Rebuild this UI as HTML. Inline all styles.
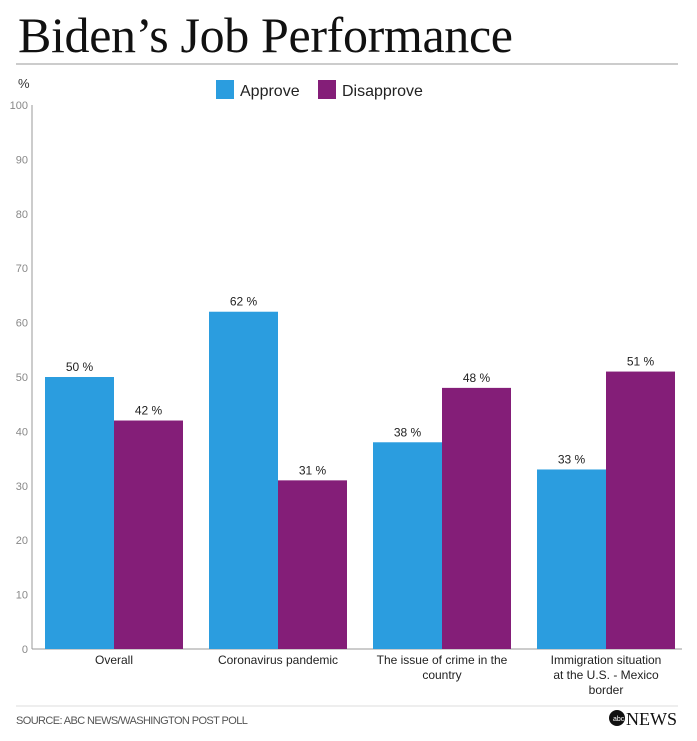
<!DOCTYPE html>
<html><head><meta charset="utf-8"><style>
body{margin:0;background:#fff;width:697px;height:736px;overflow:hidden;font-family:"Liberation Sans",sans-serif}
</style></head><body>
<svg width="697" height="736">
<text x="18" y="52" font-family="Liberation Serif" font-size="50" fill="#111" textLength="495">Biden’s Job Performance</text>
<line x1="16" y1="64" x2="678" y2="64" stroke="#999" stroke-width="1"/>
<text x="18" y="88" font-size="13" fill="#333">%</text>
<rect x="216" y="80" width="18" height="19" fill="#2b9ddf"/>
<text x="240" y="96" font-size="16" fill="#222">Approve</text>
<rect x="318" y="80" width="18" height="19" fill="#841e78"/>
<text x="342" y="96" font-size="16" fill="#222">Disapprove</text>
<g id="plot"></g>
<line x1="16" y1="706" x2="678" y2="706" stroke="#ddd"/>
<text x="16" y="724" font-size="11" fill="#555" letter-spacing="-0.6">SOURCE: ABC NEWS/WASHINGTON POST POLL</text>
<circle cx="617" cy="718" r="8" fill="#111"/>
<text x="613" y="721" font-size="7" fill="#fff">abc</text>
<text x="626" y="725" font-family="Liberation Serif" font-size="18" fill="#111">NEWS</text>
</svg>
<script>
const categories=[["Overall"],["Coronavirus pandemic"],["The issue of crime in the","country"],["Immigration situation","at the U.S. - Mexico","border"]];
const approve=[50,62,38,33];
const disapprove=[42,31,48,51];
const yTicks=[0,10,20,30,40,50,60,70,80,90,100];
const NS="http://www.w3.org/2000/svg";
const g=document.getElementById('plot');
const y0=649,y100=105,left=32,groupW=164,firstX=45,barW=69;
const y=v=>y0-(y0-y100)*v/100;
function mk(t,a,txt){const e=document.createElementNS(NS,t);for(const k in a)e.setAttribute(k,a[k]);if(txt!==undefined)e.textContent=txt;g.appendChild(e);return e;}
const ax=mk('line',{x1:left,y1:y(100),x2:left,y2:y0,stroke:'#999'});


const bx=mk('line',{x1:left,y1:y0,x2:682,y2:y0,stroke:'#999'});


yTicks.forEach(t=>{const e=mk('text',{x:28,y:y(t)+4,'font-size':11,fill:'#888','text-anchor':'end'},t);

});
categories.forEach((c,i)=>{
 const gx=firstX+i*groupW;
 [[approve[i],'#2b9ddf','approve'],[disapprove[i],'#841e78','disapprove']].forEach(([v,col,n],j)=>{
  const x=gx+j*barW;
  const r=mk('rect',{x:x,y:y(v),width:barW,height:y0-y(v),fill:col});
  
  
  const l=mk('text',{x:x+barW/2,y:y(v)-6,'font-size':12,fill:'#222','text-anchor':'middle'},v+' %');
  
  
 });
 c.forEach((line,k)=>{const t=mk('text',{x:gx+barW,y:664+k*15,'font-size':12,fill:'#222','text-anchor':'middle'},line);
 
 });
});
</script>
</body></html>
